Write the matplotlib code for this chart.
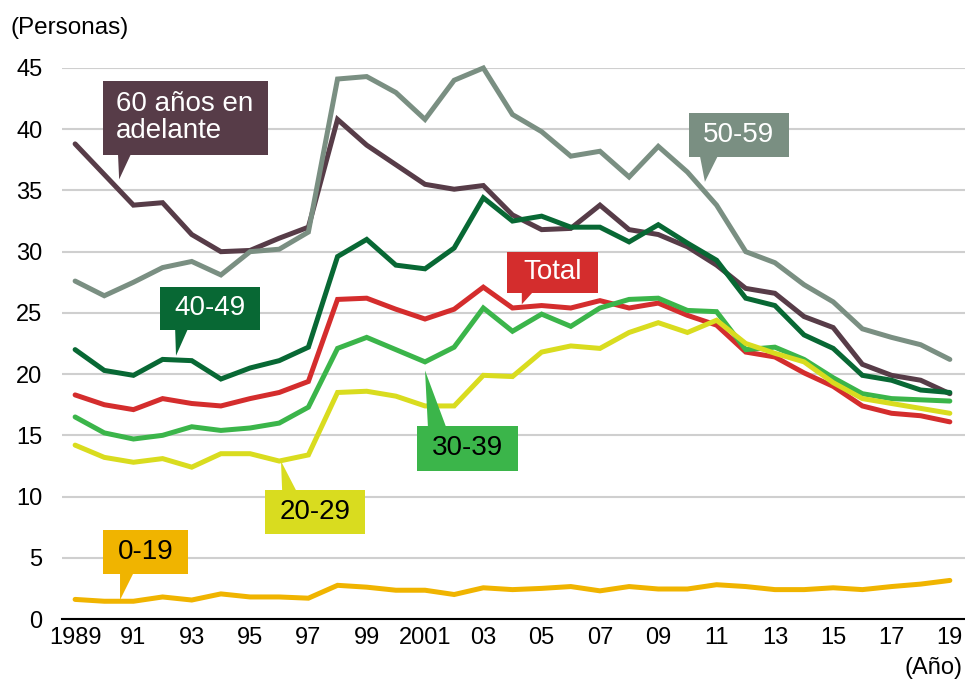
import matplotlib.pyplot as plt
from matplotlib.patches import Rectangle, Polygon

plt.rcParams['font.family'] = ['Liberation Sans', 'DejaVu Sans']

# años 1989-2019
years = list(range(1989, 2020))

edad_60_mas = [38.8, 36.3, 33.8, 34.0, 31.4, 30.0, 30.1, 31.1, 32.0, 40.8,
               38.7, 37.1, 35.5, 35.1, 35.4, 33.0, 31.8, 31.9, 33.8, 31.8,
               31.4, 30.4, 28.9, 27.0, 26.6, 24.7, 23.8, 20.8, 19.9, 19.5, 18.4]
edad_50_59 = [27.6, 26.4, 27.5, 28.7, 29.2, 28.1, 30.0, 30.2, 31.6, 44.1,
              44.3, 43.0, 40.8, 44.0, 45.0, 41.2, 39.8, 37.8, 38.2, 36.1,
              38.6, 36.5, 33.8, 30.0, 29.1, 27.3, 25.9, 23.7, 23.0, 22.4, 21.2]
edad_40_49 = [22.0, 20.3, 19.9, 21.2, 21.1, 19.6, 20.5, 21.1, 22.2, 29.6,
              31.0, 28.9, 28.6, 30.3, 34.4, 32.5, 32.9, 32.0, 32.0, 30.8,
              32.2, 30.7, 29.3, 26.2, 25.6, 23.2, 22.1, 19.9, 19.5, 18.7, 18.5]
total = [18.3, 17.5, 17.1, 18.0, 17.6, 17.4, 18.0, 18.5, 19.4, 26.1,
         26.2, 25.3, 24.5, 25.3, 27.1, 25.4, 25.6, 25.4, 26.0, 25.4,
         25.8, 24.8, 24.0, 21.8, 21.4, 20.1, 19.0, 17.4, 16.8, 16.6, 16.1]
edad_30_39 = [16.5, 15.2, 14.7, 15.0, 15.7, 15.4, 15.6, 16.0, 17.3, 22.1,
              23.0, 22.0, 21.0, 22.2, 25.4, 23.5, 24.9, 23.9, 25.4, 26.1,
              26.2, 25.2, 25.1, 22.0, 22.2, 21.2, 19.7, 18.4, 18.0, 17.9, 17.8]
edad_20_29 = [14.2, 13.2, 12.8, 13.1, 12.4, 13.5, 13.5, 12.9, 13.4, 18.5,
              18.6, 18.2, 17.4, 17.4, 19.9, 19.8, 21.8, 22.3, 22.1, 23.4,
              24.2, 23.4, 24.4, 22.5, 21.7, 21.0, 19.3, 18.0, 17.6, 17.2, 16.8]
edad_0_19 = [1.6, 1.45, 1.45, 1.8, 1.55, 2.05, 1.8, 1.8, 1.7, 2.75,
             2.6, 2.35, 2.35, 2.0, 2.55, 2.4, 2.5, 2.65, 2.3, 2.65,
             2.45, 2.45, 2.8, 2.65, 2.4, 2.4, 2.55, 2.4, 2.65, 2.85, 3.15]

c_60 = '#573c48'
c_50 = '#7a8f82'
c_40 = '#086834'
c_tot = '#d42d2d'
c_30 = '#3bb54a'
c_20 = '#d9dc1f'
c_0 = '#f0b400'

fig = plt.figure(figsize=(9.65, 6.82), dpi=100)
ax = fig.add_axes([62 / 965, 1 - 619 / 682, 1 - 62 / 965, (619 - 68) / 682])

lw = 3.6
series = [(edad_60_mas, c_60), (edad_50_59, c_50), (edad_40_49, c_40),
          (total, c_tot), (edad_30_39, c_30), (edad_20_29, c_20), (edad_0_19, c_0)]
for i, (vals, col) in enumerate(series):
    ax.plot(years, vals, color=col, lw=lw, solid_joinstyle='miter',
            solid_capstyle='round', zorder=3 + i, clip_on=False)

ax.set_xlim(1988.55, 2019.52)
ax.set_ylim(0, 45)
ax.set_yticks(range(0, 50, 5))
xt = list(range(1989, 2020, 2))
xl = []
for y in xt:
    if y in (1989, 2001):
        xl.append(str(y))
    else:
        xl.append('%02d' % (y % 100))
ax.set_xticks(xt)
ax.set_xticklabels(xl)
ax.tick_params(axis='both', length=0, labelsize=17)
ax.tick_params(axis='y', pad=14)
ax.tick_params(axis='x', pad=6)
ax.grid(axis='y', color='#cfcfcf', lw=1.5, zorder=1)
for s in ['top', 'right', 'left']:
    ax.spines[s].set_visible(False)
ax.spines['bottom'].set_color('black')
ax.spines['bottom'].set_linewidth(1.5)
ax.spines['bottom'].set_zorder(2)

fig.text(10 / 965, 1 - 28 / 682, '(Personas)', fontsize=17.5, va='center', ha='left')
fig.text(962 / 965, 1 - 668 / 682, '(Año)', fontsize=17, va='center', ha='right')


def callout(text, x0, x1, y0, y1, tail, col, tcol, ha='center'):
    ax.add_patch(Rectangle((x0, y0), x1 - x0, y1 - y0, color=col,
                           zorder=20, clip_on=False, lw=0))
    ax.add_patch(Polygon(tail, closed=True, color=col, zorder=20,
                         clip_on=False, lw=0))
    if ha == 'center':
        tx = (x0 + x1) / 2
    else:
        tx = x0 + 0.45
    ax.text(tx, (y0 + y1) / 2, text, color=tcol, fontsize=20, ha=ha,
            va='center', zorder=21, linespacing=1.05)


callout('60 años en\nadelante', 1989.96, 1995.62, 37.91, 43.95,
        [(1990.47, 38.0), (1990.92, 38.0), (1990.51, 35.9)], c_60, 'white', ha='left')
callout('50-59', 2010.05, 2013.48, 37.75, 41.34,
        [(2010.43, 37.8), (2011.04, 37.8), (2010.6, 35.7)], c_50, 'white')
callout('40-49', 1991.91, 1995.34, 23.61, 27.12,
        [(1992.43, 23.7), (1992.87, 23.7), (1992.46, 21.5)], c_40, 'white')
callout('Total', 2003.81, 2006.93, 26.63, 29.98,
        [(2004.32, 26.7), (2004.70, 26.7), (2004.32, 25.7)], c_tot, 'white')
callout('30-39', 2000.72, 2004.19, 12.09, 15.77,
        [(2001.10, 15.7), (2001.72, 15.7), (2001.0, 20.3)], c_30, 'black')
callout('20-29', 1995.51, 1998.94, 6.94, 10.54,
        [(1996.10, 10.5), (1996.58, 10.5), (1996.06, 12.9)], c_20, 'black')
callout('0-19', 1989.96, 1992.87, 3.68, 7.27,
        [(1990.54, 3.7), (1990.99, 3.7), (1990.54, 1.55)], c_0, 'black')

fig.savefig('out.png', dpi=100)
